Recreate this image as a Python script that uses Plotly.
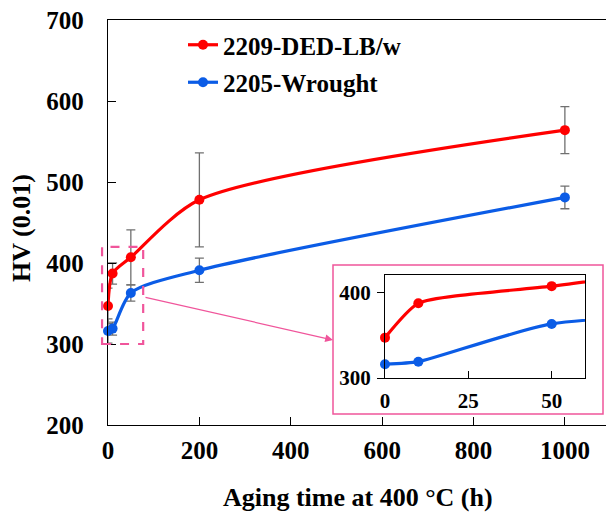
import plotly.graph_objects as go

# Vickers hardness HV(0.01) vs. aging time at 400 °C
hours = [0, 10, 50, 200, 1000]
hv_ded = [347, 387, 407, 478, 564]
hv_ded_err = [22, 13, 34, 58, 29]
hv_wrought = [316, 319, 363, 391, 481]
hv_wrought_err = [15, 8, 10, 15, 14]

series_names = ["2209-DED-LB/w", "2205-Wrought"]
series_colors = ["#FF0000", "#0B5CE6"]

x_ticks = [0, 200, 400, 600, 800, 1000]
y_ticks = [200, 300, 400, 500, 600, 700]
inset_x_ticks = [0, 25, 50]
inset_y_ticks = [300, 400]

X_RANGE = [0, 1090]
Y_RANGE = [200, 700]
INSET_X_RANGE = [0, 60]
INSET_Y_RANGE = [300, 420]

W, H = 606, 517
M_L, M_R, M_T, M_B = 108, 0, 20, 92
PW, PH = W - M_L - M_R, H - M_T - M_B

FONT = "Times New Roman, Liberation Serif, DejaVu Serif, serif"
PINK = "#F0559B"
ERR_COLOR = "#707070"
SMOOTH_MAIN = 0.75
SMOOTH_INSET = 0.55


def px_to_paper_x(px):
    return (px - M_L) / PW


def px_to_paper_y(py):
    return (H - M_B - py) / PH


def data_to_paper_x(v):
    return (v - X_RANGE[0]) / (X_RANGE[1] - X_RANGE[0])


def data_to_paper_y(v):
    return (v - Y_RANGE[0]) / (Y_RANGE[1] - Y_RANGE[0])


fig = go.Figure()

all_y = [hv_ded, hv_wrought]
all_err = [hv_ded_err, hv_wrought_err]

for i, (name, color) in enumerate(zip(series_names, series_colors)):
    fig.add_trace(go.Scatter(
        x=hours, y=all_y[i], name=name, legendgroup=name,
        mode="lines+markers",
        line=dict(color=color, width=3.2, shape="spline", smoothing=SMOOTH_MAIN),
        marker=dict(color=color, size=10),
        error_y=dict(type="data", array=all_err[i], visible=True,
                     color=ERR_COLOR, thickness=1.3, width=4.5),
        cliponaxis=False,
    ))

# zoomed-in view of the first 60 h
for i, (name, color) in enumerate(zip(series_names, series_colors)):
    fig.add_trace(go.Scatter(
        x=hours, y=all_y[i], name=name, showlegend=False,
        xaxis="x2", yaxis="y2",
        mode="lines+markers",
        line=dict(color=color, width=3.2, shape="spline", smoothing=SMOOTH_INSET),
        marker=dict(color=color, size=10),
        cliponaxis=False,
    ))

tick_font = dict(family=FONT, size=25, color="black", weight="bold")
inset_tick_font = dict(family=FONT, size=21, color="black", weight="bold")

fig.update_layout(
    width=W, height=H,
    margin=dict(l=M_L, r=M_R, t=M_T, b=M_B, pad=0),
    paper_bgcolor="white", plot_bgcolor="white",
    font=dict(family=FONT, color="black"),
    xaxis=dict(range=X_RANGE, tickvals=x_ticks, ticks="inside", ticklen=8,
               tickwidth=1.2, tickcolor="black", showline=True, linecolor="black",
               linewidth=1.3, mirror=True, showgrid=False, zeroline=False,
               tickfont=tick_font, ticklabelstandoff=3),
    yaxis=dict(range=Y_RANGE, tickvals=y_ticks, ticks="inside", ticklen=8,
               tickwidth=1.2, tickcolor="black", showline=True, linecolor="black",
               linewidth=1.3, showgrid=False, zeroline=False,
               tickfont=tick_font, ticklabelstandoff=18),
    xaxis2=dict(domain=[px_to_paper_x(385), px_to_paper_x(585)], anchor="y2",
                range=INSET_X_RANGE, tickvals=inset_x_ticks, ticks="inside",
                ticklen=7, tickwidth=1.2, tickcolor="black", showline=True,
                linecolor="black", linewidth=1.3, mirror=True, showgrid=False,
                zeroline=False, tickfont=inset_tick_font, ticklabelstandoff=4),
    yaxis2=dict(domain=[px_to_paper_y(378), px_to_paper_y(275)], anchor="x2",
                range=INSET_Y_RANGE, tickvals=inset_y_ticks, ticks="outside",
                ticklen=7, tickwidth=1.2, tickcolor="black", showline=True,
                linecolor="black", linewidth=1.3, mirror=True, showgrid=False,
                zeroline=False, tickfont=inset_tick_font, ticklabelstandoff=2),
    legend=dict(x=px_to_paper_x(183), y=px_to_paper_y(22), xanchor="left",
                yanchor="top", bgcolor="rgba(0,0,0,0)", tracegroupgap=2,
                font=dict(family=FONT, size=25, color="black", weight="bold")),
    showlegend=True,
)

# axis titles
fig.add_annotation(text="Aging time at 400 °C (h)", xref="paper", yref="paper",
                   x=px_to_paper_x(358), y=px_to_paper_y(497),
                   xanchor="center", yanchor="middle", showarrow=False,
                   font=dict(family=FONT, size=26, color="black", weight="bold"))
fig.add_annotation(text="HV (0.01)", xref="paper", yref="paper", textangle=-90,
                   x=px_to_paper_x(22), y=px_to_paper_y(228),
                   xanchor="center", yanchor="middle", showarrow=False,
                   font=dict(family=FONT, size=26, color="black", weight="bold"))

# dashed region marking the zoomed window
fig.add_shape(type="rect", xref="paper", yref="paper",
              x0=data_to_paper_x(-13), x1=data_to_paper_x(77),
              y0=data_to_paper_y(INSET_Y_RANGE[0]), y1=data_to_paper_y(INSET_Y_RANGE[1]),
              line=dict(color=PINK, width=2.2, dash="dash"), layer="above")

# frame around the inset
fig.add_shape(type="rect", xref="paper", yref="paper",
              x0=px_to_paper_x(333), x1=px_to_paper_x(603),
              y0=px_to_paper_y(414), y1=px_to_paper_y(265),
              line=dict(color=PINK, width=1.5), layer="above")

# arrow from the dashed window to the inset
fig.add_annotation(text="", xref="paper", yref="paper",
                   x=px_to_paper_x(333), y=px_to_paper_y(340),
                   ax=-189, ay=-43, axref="pixel", ayref="pixel",
                   showarrow=True, arrowhead=2, arrowsize=1.3, arrowwidth=1.2,
                   arrowcolor=PINK)

fig.write_html("out.html")
